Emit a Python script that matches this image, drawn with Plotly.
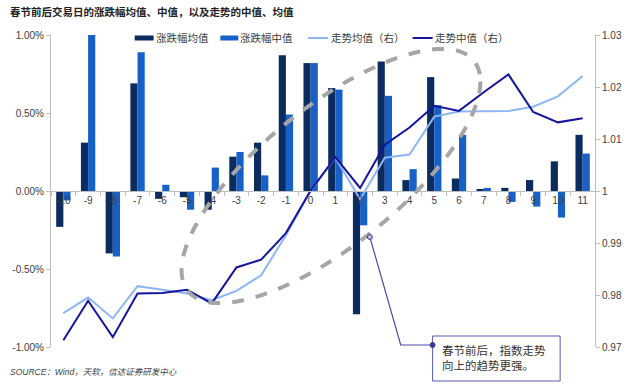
import numpy as np
import plotly.graph_objects as go

# ---------------- data ----------------
days = [str(d) for d in range(-10, 12)]
mean_chg = [-0.23, 0.31, -0.40, 0.69, -0.05, -0.04, -0.12, 0.22, 0.31, 0.87, 0.82, 0.66,
            -0.79, 0.83, 0.07, 0.73, 0.08, 0.01, 0.02, 0.07, 0.19, 0.36]
median_chg = [-0.06, 1.00, -0.42, 0.89, 0.04, -0.12, 0.15, 0.25, 0.10, 0.49, 0.82, 0.65,
              -0.22, 0.61, 0.14, 0.55, 0.36, 0.02, -0.07, -0.10, -0.17, 0.24]
mean_trend = [0.9765, 0.9795, 0.9755, 0.9817, 0.9810, 0.9803, 0.9790, 0.9808, 0.9838, 0.9915,
              1.0000, 1.0064, 0.9984, 1.0064, 1.0070, 1.0143, 1.0153, 1.0153, 1.0154, 1.0162,
              1.0182, 1.0221]
median_trend = [0.9713, 0.9789, 0.9719, 0.9803, 0.9804, 0.9810, 0.9784, 0.9853, 0.9868, 0.9919,
                1.0001, 1.0065, 1.0006, 1.0089, 1.0122, 1.0164, 1.0154, 1.0190, 1.0224, 1.0152,
                1.0132, 1.0140]
series_names = ["涨跌幅均值", "涨跌幅中值", "走势均值（右）", "走势中值（右）"]
left_ticks = [1.0, 0.5, 0.0, -0.5, -1.0]
left_ticktext = ["1.00%", "0.50%", "0.00%", "-0.50%", "-1.00%"]
right_ticks = [1.03, 1.02, 1.01, 1.00, 0.99, 0.98, 0.97]
right_ticktext = ["1.03", "1.02", "1.01", "1", "0.99", "0.98", "0.97"]
title_text = "春节前后交易日的涨跌幅均值、中值，以及走势的中值、均值"
source_text = "SOURCE：Wind，天软，信达证券研发中心"
note_text = "春节前后，指数走势<br>向上的趋势更强。"

# ---------------- style ----------------
C_DARK = "#0c2b5e"
C_BLUE = "#1760c8"
C_LIGHT = "#8db6f2"
C_MED = "#14149e"
C_AXIS = "#bfbfbf"
C_TXT = "#404040"
FONT = "Liberation Sans, Noto Sans CJK SC, sans-serif"
CJK = "Noto Sans CJK SC, sans-serif"

W, H = 640, 387
L, R, T, B = 49, 595, 35, 347


def px(x):
    return (x - L) / (R - L)


def py(y):
    return (B - y) / (B - T)


fig = go.Figure()
fig.add_trace(go.Bar(x=days, y=mean_chg, name=series_names[0], marker_color=C_DARK,
                     marker_line_width=0))
fig.add_trace(go.Bar(x=days, y=median_chg, name=series_names[1], marker_color=C_BLUE,
                     marker_line_width=0))
fig.add_trace(go.Scatter(x=days, y=mean_trend, name=series_names[2], mode="lines",
                         line=dict(color=C_LIGHT, width=2), yaxis="y2"))
fig.add_trace(go.Scatter(x=days, y=median_trend, name=series_names[3], mode="lines",
                         line=dict(color=C_MED, width=2), yaxis="y2"))

shapes = []
annotations = []

# ellipse (decoration), parametrised by its conjugate diameters in pixel space
cx, cy, A, slope, K = 330, 176, 150, -0.63, 85
t = np.linspace(0, 2 * np.pi, 121)
ex = cx + A * np.cos(t)
ey = cy + slope * A * np.cos(t) + K * np.sin(t)
path = "M " + " L ".join(f"{px(xx):.5f},{py(yy):.5f}" for xx, yy in zip(ex, ey)) + " Z"
shapes.append(dict(type="path", xref="paper", yref="paper", path=path,
                   line=dict(color="#a6a6a6", width=4, dash="dash"), layer="above"))

# leader line + box
shapes.append(dict(type="path", xref="paper", yref="paper",
                   path=f"M {px(369)},{py(237)} L {px(400)},{py(345)} L {px(432)},{py(345)}",
                   line=dict(color="#4a4aa8", width=1.2), layer="above"))
shapes.append(dict(type="rect", xref="paper", yref="paper",
                   x0=px(432), x1=px(560), y0=py(336), y1=py(381),
                   line=dict(color="#5a5ab8", width=1), fillcolor="white", layer="above"))
shapes.append(dict(type="circle", xref="paper", yref="paper",
                   x0=px(366.5), x1=px(371.5), y0=py(234.5), y1=py(239.5),
                   line=dict(color="#3a3a9a", width=1), fillcolor="#b8b8d8", layer="above"))
shapes.append(dict(type="circle", xref="paper", yref="paper",
                   x0=px(429.5), x1=px(434.5), y0=py(342.5), y1=py(347.5),
                   line=dict(color="#3a3a9a", width=1), fillcolor="#3a3a9a", layer="above"))
annotations.append(dict(xref="paper", yref="paper", x=px(439), y=py(340), xanchor="left",
                        yanchor="top", align="left", showarrow=False, text=note_text,
                        font=dict(family=CJK, size=11.5, color="#333333")))

# custom legend
leg_y = 38
shapes.append(dict(type="rect", xref="paper", yref="paper", x0=px(133), x1=px(152),
                   y0=py(leg_y - 2.5), y1=py(leg_y + 2.5), fillcolor=C_DARK, line_width=0))
shapes.append(dict(type="rect", xref="paper", yref="paper", x0=px(219), x1=px(237),
                   y0=py(leg_y - 2.5), y1=py(leg_y + 2.5), fillcolor=C_BLUE, line_width=0))
shapes.append(dict(type="line", xref="paper", yref="paper", x0=px(307), x1=px(327),
                   y0=py(leg_y), y1=py(leg_y), line=dict(color=C_LIGHT, width=2)))
shapes.append(dict(type="line", xref="paper", yref="paper", x0=px(412), x1=px(432),
                   y0=py(leg_y), y1=py(leg_y), line=dict(color=C_MED, width=2)))
for xpos, name in zip([152, 237, 328, 432], series_names):
    annotations.append(dict(xref="paper", yref="paper", x=px(xpos), y=py(leg_y),
                            xanchor="left", yanchor="middle", showarrow=False, text=name,
                            font=dict(family=CJK, size=10.5, color=C_TXT)))

# title and source
annotations.append(dict(xref="paper", yref="paper", x=px(6), y=py(11), xanchor="left",
                        yanchor="middle", showarrow=False, text=f"<b>{title_text}</b>",
                        font=dict(family=CJK, size=10.5, color="#222222")))
annotations.append(dict(xref="paper", yref="paper", x=px(6), y=py(372), xanchor="left",
                        yanchor="middle", showarrow=False, text=f"<i>{source_text}</i>",
                        font=dict(family=FONT, size=8.5, color="#404040")))

fig.update_layout(
    width=W, height=H,
    margin=dict(l=L, r=W - R, t=T, b=H - B, pad=0),
    paper_bgcolor="white", plot_bgcolor="white",
    barmode="group", bargap=0.42, bargroupgap=0,
    showlegend=False,
    font=dict(family=FONT, size=10, color=C_TXT),
    xaxis=dict(type="category", anchor="free", position=0.5, showline=True,
               linecolor=C_AXIS, linewidth=1, ticks="outside", tickson="boundaries",
               ticklen=4, tickcolor=C_AXIS, showgrid=False, zeroline=False,
               tickfont=dict(size=10, color=C_TXT), range=[-0.5, 21.5]),
    yaxis=dict(range=[-1.0, 1.0], tickvals=left_ticks, ticktext=left_ticktext,
               showline=True, linecolor=C_AXIS, ticks="outside", ticklen=4,
               tickcolor=C_AXIS, showgrid=False, zeroline=False,
               tickfont=dict(size=10, color=C_TXT)),
    yaxis2=dict(range=[0.97, 1.03], overlaying="y", side="right", tickvals=right_ticks,
                ticktext=right_ticktext, showline=True, linecolor=C_AXIS, ticks="outside",
                ticklen=4, tickcolor=C_AXIS, showgrid=False, zeroline=False,
                tickfont=dict(size=10, color=C_TXT)),
    shapes=shapes, annotations=annotations,
)

fig.write_html("out.html", config={"displayModeBar": False},
               post_script="document.body.style.margin='0';document.body.style.overflow='hidden';")
